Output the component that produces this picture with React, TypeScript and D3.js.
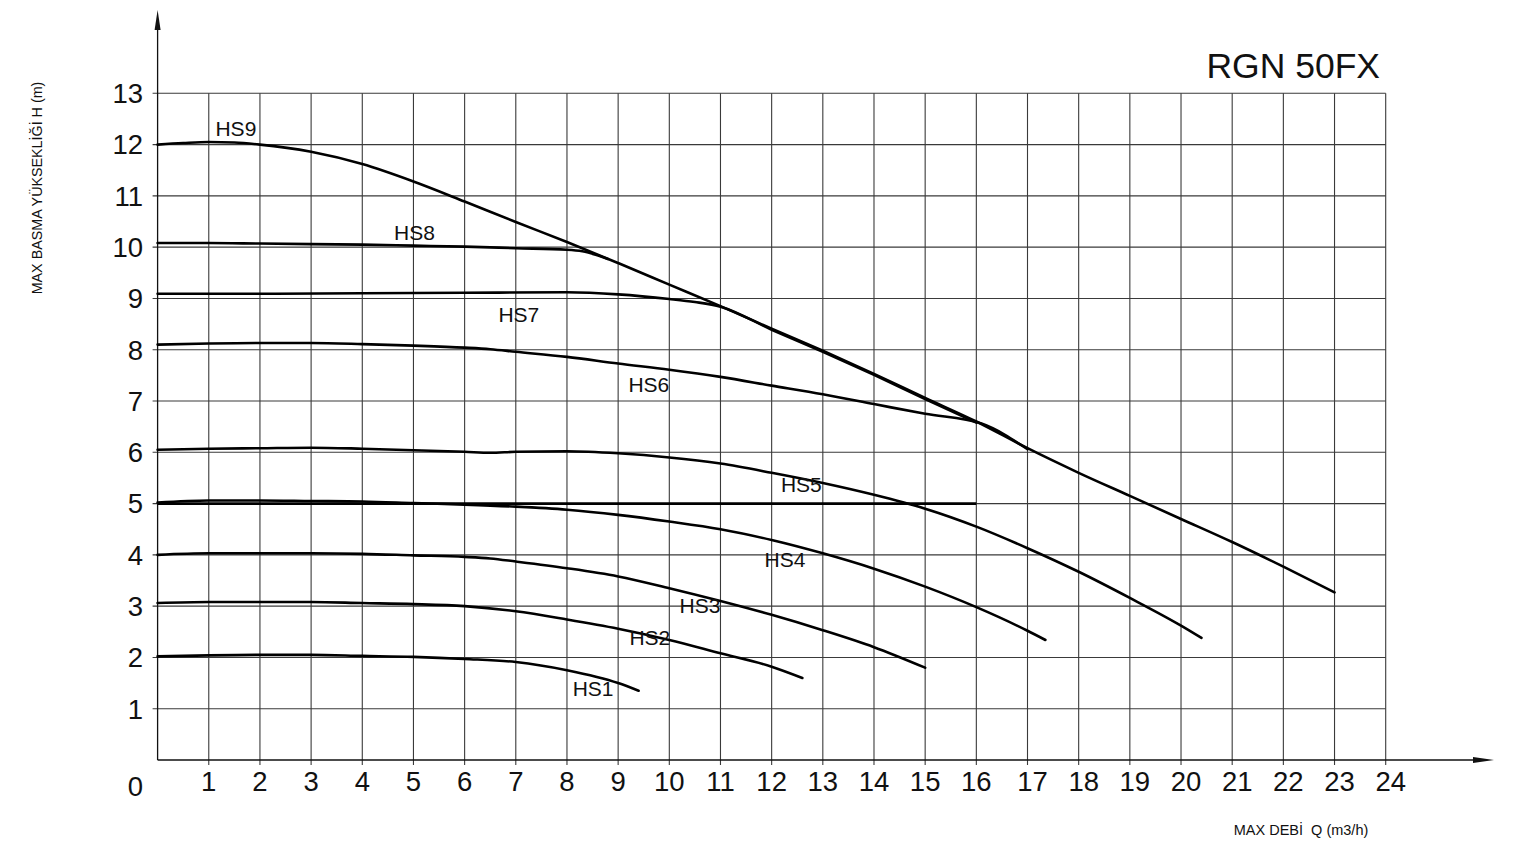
import React, { useEffect } from 'react';
import * as d3 from 'd3';

const W = 1536;
const H = 856;

const title = 'RGN 50FX';
const yTitle = 'MAX BASMA YÜKSEKLİĞİ H (m)';
const xTitle = 'MAX DEBİ  Q (m3/h)';

const xTickLabels = [1, 2, 3, 4, 5, 6, 7, 8, 9, 10, 11, 12, 13, 14, 15, 16, 17, 18, 19, 20, 21, 22, 23, 24];
const yTickLabels = [1, 2, 3, 4, 5, 6, 7, 8, 9, 10, 11, 12, 13];

// [Q (m3/h), H (m)]
const hs9: [number, number][] = [[0, 12.0], [0.5, 12.03], [1, 12.05], [1.5, 12.04], [2, 12.0], [3, 11.86], [4, 11.62], [5, 11.28], [6, 10.89], [7, 10.49], [8, 10.1], [9, 9.69], [10, 9.27], [11, 8.85], [12, 8.41], [13, 7.98], [14, 7.53], [15, 7.06], [16, 6.6], [17, 6.08], [18, 5.6], [19, 5.15], [20, 4.7], [21, 4.25], [22, 3.77], [23, 3.27]];
const hs8: [number, number][] = [[0, 10.08], [1, 10.08], [2, 10.07], [3, 10.06], [4, 10.05], [5, 10.03], [6, 10.01], [7, 9.98], [8, 9.95], [8.3, 9.92], [8.8, 9.77]];
const hs7: [number, number][] = [[0, 9.09], [2, 9.09], [4, 9.1], [6, 9.11], [8, 9.12], [9, 9.08], [10, 8.99], [10.5, 8.93], [11, 8.84], [12, 8.39], [13, 7.96], [14, 7.51], [15, 7.04], [16, 6.58]];
const hs6: [number, number][] = [[0, 8.1], [1, 8.12], [2, 8.13], [3, 8.13], [4, 8.11], [5, 8.08], [6, 8.04], [6.5, 8.01], [7, 7.96], [8, 7.86], [9, 7.73], [10, 7.61], [11, 7.47], [12, 7.3], [13, 7.13], [14, 6.94], [15, 6.75], [16.1, 6.56], [17, 6.06]];
const hs5: [number, number][] = [[0, 6.05], [1, 6.07], [2, 6.08], [3, 6.09], [4, 6.07], [5, 6.04], [6, 6.01], [6.5, 5.99], [7, 6.01], [8, 6.02], [9, 5.98], [10, 5.9], [11, 5.78], [12, 5.6], [13, 5.4], [14, 5.17], [15, 4.9], [16, 4.55], [17, 4.13], [18, 3.67], [19, 3.16], [20, 2.62], [20.4, 2.38]];
const hs4: [number, number][] = [[0, 5.02], [1, 5.06], [2, 5.06], [3, 5.05], [4, 5.04], [5, 5.01], [6, 4.98], [7, 4.94], [8, 4.88], [9, 4.78], [10, 4.65], [11, 4.5], [12, 4.29], [13, 4.03], [14, 3.73], [15, 3.38], [16, 2.98], [17, 2.52], [17.35, 2.34]];
const hs3: [number, number][] = [[0, 4.0], [1, 4.03], [2, 4.03], [3, 4.03], [4, 4.02], [5, 3.99], [6, 3.96], [6.5, 3.93], [7, 3.87], [8, 3.74], [9, 3.58], [10, 3.35], [11, 3.1], [12, 2.83], [13, 2.53], [14, 2.2], [15, 1.8]];
const hs2: [number, number][] = [[0, 3.06], [1, 3.08], [2, 3.08], [3, 3.08], [4, 3.06], [5, 3.04], [6, 3.0], [7, 2.9], [8, 2.74], [9, 2.56], [10, 2.34], [11, 2.08], [12, 1.82], [12.6, 1.6]];
const hs1: [number, number][] = [[0, 2.02], [1, 2.04], [2, 2.05], [3, 2.05], [4, 2.03], [5, 2.01], [6, 1.97], [7, 1.91], [8, 1.75], [9, 1.5], [9.4, 1.35]];
const line5: [number, number][] = [[0, 5.0], [16, 5.0]];

const curves = [hs9, hs8, hs7, hs6, hs5, hs4, hs3, hs2, hs1];

const labelNames = ['HS9', 'HS8', 'HS7', 'HS6', 'HS5', 'HS4', 'HS3', 'HS2', 'HS1'];
const labelQ = [1.53, 5.02, 7.06, 9.6, 12.58, 12.26, 10.6, 9.62, 8.51];
const labelH = [12.17, 10.14, 8.54, 7.18, 5.23, 3.76, 2.87, 2.24, 1.25];

const FONT = '"Liberation Sans", Arial, sans-serif';

export default function App() {
  useEffect(() => {
    document.body.style.margin = '0';
  }, []);

  const x = d3.scaleLinear().domain([0, 24]).range([157.6, 1385.7]);
  const y = d3.scaleLinear().domain([0, 13]).range([760, 93.3]);

  const line = d3
    .line<[number, number]>()
    .x((d) => x(d[0]))
    .y((d) => y(d[1]))
    .curve(d3.curveMonotoneX);

  const gridColor = '#3a3a3a';

  return (
    <svg width={W} height={H} style={{ display: 'block', background: '#fff' }} fontFamily={FONT}>
      {/* horizontal grid */}
      {yTickLabels.map((v) => (
        <line key={'h' + v} x1={x(0) - 5} x2={x(24)} y1={y(v)} y2={y(v)} stroke={gridColor} strokeWidth={1.1} />
      ))}
      {/* vertical grid */}
      {xTickLabels.map((v) => (
        <line key={'v' + v} x1={x(v)} x2={x(v)} y1={y(13)} y2={y(0) + 5} stroke={gridColor} strokeWidth={1.1} />
      ))}
      {/* axes */}
      <line x1={x(0)} x2={x(0)} y1={y(0)} y2={26} stroke="#111" strokeWidth={1.3} />
      <path d={`M${x(0)},10 L${x(0) - 3},30 L${x(0) + 3},30 Z`} fill="#111" />
      <line x1={x(0)} x2={1476} y1={y(0)} y2={y(0)} stroke="#111" strokeWidth={1.3} />
      <path d={`M1494,${y(0)} L1473,${y(0) - 3} L1473,${y(0) + 3} Z`} fill="#111" />

      {/* y tick labels */}
      {yTickLabels.map((v) => (
        <text key={'yl' + v} x={143} y={y(v)} dy="0.36em" textAnchor="end" fontSize={27.5} fill="#111">
          {v}
        </text>
      ))}
      <text x={143} y={786} dy="0.36em" textAnchor="end" fontSize={27.5} fill="#111">
        0
      </text>
      {/* x tick labels */}
      {xTickLabels.map((v) => (
        <text key={'xl' + v} x={x(v) + (v >= 17 ? 5 : 0)} y={781} dy="0.36em" textAnchor="middle" fontSize={27.5} fill="#111">
          {v}
        </text>
      ))}

      {/* curves */}
      {curves.map((c, i) => (
        <path key={'c' + i} d={line(c) || ''} fill="none" stroke="#000" strokeWidth={2.6} strokeLinejoin="round" strokeLinecap="round" />
      ))}
      <path d={line(line5) || ''} fill="none" stroke="#000" strokeWidth={2.6} />

      {/* curve labels */}
      {labelNames.map((n, i) => (
        <text key={'lab' + n} x={x(labelQ[i])} y={y(labelH[i])} textAnchor="middle" fontSize={21} fill="#111">
          {n}
        </text>
      ))}

      {/* titles */}
      <text x={1380} y={78} textAnchor="end" fontSize={35.5} fill="#111">
        {title}
      </text>
      <text transform={`translate(42,188) rotate(-90)`} textAnchor="middle" fontSize={14.3} fill="#111">
        {yTitle}
      </text>
      <text x={1301} y={835} textAnchor="middle" fontSize={14.5} fill="#111" style={{ whiteSpace: 'pre' }}>
        {xTitle}
      </text>
    </svg>
  );
}
